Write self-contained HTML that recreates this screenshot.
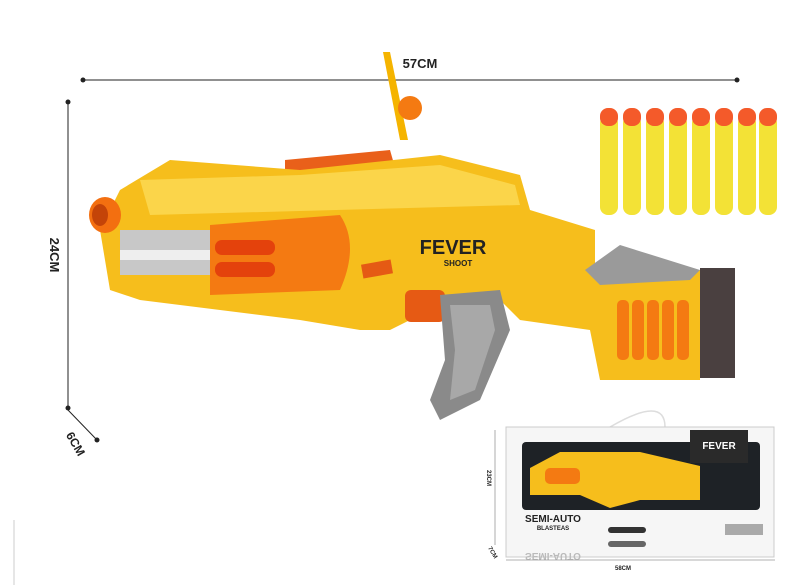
<!DOCTYPE html>
<html><head><meta charset="utf-8"><style>
html,body{margin:0;padding:0;background:#fff;}
svg{display:block;}
text{font-family:"Liberation Sans",sans-serif;font-weight:bold;}
</style></head><body>
<svg width="800" height="585" viewBox="0 0 800 585" xmlns="http://www.w3.org/2000/svg">
<line x1="83" y1="80" x2="737" y2="80" stroke="#222" stroke-width="1"/>
<circle cx="83" cy="80" r="2.5" fill="#222"/><circle cx="737" cy="80" r="2.5" fill="#222"/>
<text x="420" y="68" font-size="13" text-anchor="middle" fill="#222">57CM</text>
<line x1="68" y1="102" x2="68" y2="408" stroke="#222" stroke-width="1"/>
<circle cx="68" cy="102" r="2.5" fill="#222"/><circle cx="68" cy="408" r="2.5" fill="#222"/>
<text x="50" y="255" font-size="13" fill="#222" text-anchor="middle" transform="rotate(90 50 255)">24CM</text>
<line x1="68" y1="410" x2="97" y2="440" stroke="#222" stroke-width="1"/>
<circle cx="97" cy="440" r="2.5" fill="#222"/>
<text x="72" y="446" font-size="12" fill="#222" text-anchor="middle" transform="rotate(60 72 446)">6CM</text>

<polygon points="383,52 390,52 408,140 400,140" fill="#f5b400"/>
<circle cx="410" cy="108" r="12" fill="#f47a12"/>
<polygon points="285,160 390,150 400,185 285,190" fill="#e9601a"/>
<polygon points="120,190 170,160 300,170 440,155 520,175 530,210 595,230 595,272 700,270 700,380 600,380 590,330 520,320 500,300 450,300 390,330 360,330 300,320 140,300 110,290 100,230" fill="#f6be1c"/>
<polygon points="140,180 300,175 440,165 515,185 520,205 150,215" fill="#fbd54a"/>
<rect x="120" y="230" width="110" height="45" fill="#c8c8c8"/>
<rect x="120" y="250" width="110" height="10" fill="#eeeeee"/>
<ellipse cx="105" cy="215" rx="16" ry="18" fill="#f36f10"/>
<ellipse cx="100" cy="215" rx="8" ry="11" fill="#c44408"/>
<path d="M210,225 L340,215 Q360,245 340,290 L210,295 Z" fill="#f47a12"/>
<rect x="215" y="240" width="60" height="15" rx="7" fill="#e4420c"/>
<rect x="215" y="262" width="60" height="15" rx="7" fill="#e4420c"/>
<text x="453" y="254" font-size="20" text-anchor="middle" fill="#222">FEVER</text>
<text x="458" y="266" font-size="8" text-anchor="middle" fill="#222">SHOOT</text>
<rect x="362" y="262" width="30" height="14" fill="#e55a14" transform="rotate(-10 377 269)"/>
<rect x="405" y="290" width="40" height="32" rx="6" fill="#e65a14"/>
<polygon points="440,295 500,290 510,330 480,400 440,420 430,400 445,360" fill="#8a8a8a"/>
<polygon points="450,305 490,305 495,330 475,390 450,400 455,350" fill="#a8a8a8"/>
<polygon points="585,270 620,245 700,270 690,280 600,285" fill="#9a9a9a"/>
<rect x="700" y="268" width="35" height="110" fill="#4a4040"/>
<g fill="#f47a12">
<rect x="617" y="300" width="12" height="60" rx="5"/><rect x="632" y="300" width="12" height="60" rx="5"/>
<rect x="647" y="300" width="12" height="60" rx="5"/><rect x="662" y="300" width="12" height="60" rx="5"/>
<rect x="677" y="300" width="12" height="60" rx="5"/>
</g>
<g fill="#f3e236">
<rect x="600" y="115" width="18" height="100" rx="8"/><rect x="623" y="115" width="18" height="100" rx="8"/>
<rect x="646" y="115" width="18" height="100" rx="8"/><rect x="669" y="115" width="18" height="100" rx="8"/>
<rect x="692" y="115" width="18" height="100" rx="8"/><rect x="715" y="115" width="18" height="100" rx="8"/>
<rect x="738" y="115" width="18" height="100" rx="8"/><rect x="759" y="115" width="18" height="100" rx="8"/>
</g>
<g fill="#f45a2a">
<rect x="600" y="108" width="18" height="18" rx="8"/><rect x="623" y="108" width="18" height="18" rx="8"/>
<rect x="646" y="108" width="18" height="18" rx="8"/><rect x="669" y="108" width="18" height="18" rx="8"/>
<rect x="692" y="108" width="18" height="18" rx="8"/><rect x="715" y="108" width="18" height="18" rx="8"/>
<rect x="738" y="108" width="18" height="18" rx="8"/><rect x="759" y="108" width="18" height="18" rx="8"/>
</g>

<path d="M610,427 Q665,395 665,427" fill="none" stroke="#ddd" stroke-width="1.5"/>
<rect x="506" y="427" width="268" height="130" fill="#f6f6f6" stroke="#ccc"/>
<rect x="522" y="442" width="238" height="68" rx="4" fill="#1e2226"/>
<polygon points="530,468 560,452 640,452 700,466 700,500 640,500 610,508 580,495 530,495" fill="#f6be1c"/>
<rect x="545" y="468" width="35" height="16" rx="5" fill="#f47a12"/>
<rect x="690" y="430" width="58" height="33" fill="#2a2a2a"/>
<text x="719" y="449" font-size="10" text-anchor="middle" fill="#fff">FEVER</text>
<text x="553" y="522" font-size="10" text-anchor="middle" fill="#222">SEMI-AUTO</text>
<text x="553" y="530" font-size="6" text-anchor="middle" fill="#222">BLASTEAS</text>
<g transform="translate(0,1094) scale(1,-1)"><text x="553" y="541" font-size="10" text-anchor="middle" fill="#bbb">SEMI-AUTO</text></g>
<rect x="608" y="527" width="38" height="6" rx="3" fill="#333"/>
<rect x="608" y="541" width="38" height="6" rx="3" fill="#666"/>
<rect x="725" y="524" width="38" height="11" fill="#aaa"/>
<line x1="506" y1="560" x2="775" y2="560" stroke="#999" stroke-width="0.8"/>
<text x="623" y="570" font-size="6" text-anchor="middle" fill="#222">58CM</text>
<line x1="495" y1="430" x2="495" y2="545" stroke="#999" stroke-width="0.8"/>
<text x="487" y="470" font-size="6" fill="#222" transform="rotate(90 487 470)">23CM</text>
<text x="488" y="548" font-size="6" fill="#222" transform="rotate(60 488 548)">7CM</text>
<line x1="14" y1="520" x2="14" y2="585" stroke="#ccc"/>
</svg>
</body></html>
